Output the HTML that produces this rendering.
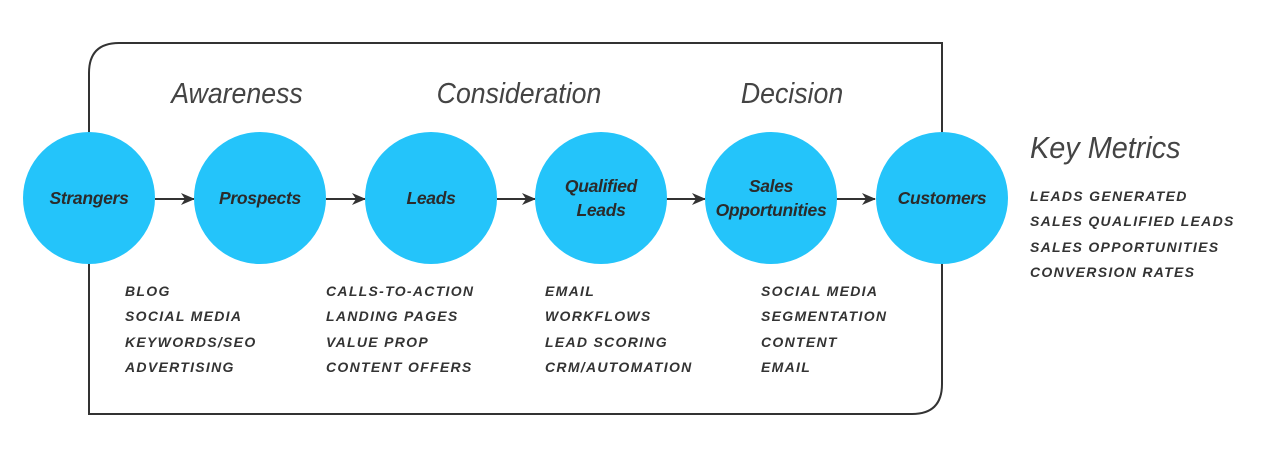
<!DOCTYPE html>
<html><head><meta charset="utf-8"><style>
body{margin:0;width:1280px;height:454px;background:#fff;position:relative;overflow:hidden;font-family:"Liberation Sans",sans-serif;}
.h{position:absolute;font-style:italic;font-weight:300;color:#444;font-size:29px;transform:translateX(-50%) scaleX(0.92);white-space:nowrap;line-height:1}
.c{position:absolute;width:132px;height:132px;border-radius:50%;background:#24C4FA;top:132px;display:flex;align-items:center;justify-content:center;text-align:center;font-weight:bold;font-style:italic;color:#2b2b2b;font-size:17.5px;line-height:24px;letter-spacing:-0.3px}
.l{position:absolute;font-weight:bold;font-style:italic;color:#333;font-size:14px;letter-spacing:1.3px;line-height:25.3px;white-space:nowrap}
</style></head><body>
<svg width="1280" height="454" style="position:absolute;left:0;top:0">
<defs><marker id="a" markerWidth="14" markerHeight="12" refX="13" refY="6" orient="auto" markerUnits="userSpaceOnUse"><path d="M0,0 L14,6 L0,12 L4,6 Z" fill="#333"/></marker></defs>
<path d="M89,414 L89,73 Q89,43 119,43 L942,43 L942,384 Q942,414 912,414 Z" fill="none" stroke="#333" stroke-width="2"/>
<g stroke="#333" stroke-width="2" marker-end="url(#a)">
<line x1="155" y1="199" x2="194" y2="199"/>
<line x1="326" y1="199" x2="365" y2="199"/>
<line x1="497" y1="199" x2="535" y2="199"/>
<line x1="666" y1="199" x2="705" y2="199"/>
<line x1="836" y1="199" x2="875" y2="199"/>
</g>
</svg>
<div class="h" style="left:237px;top:80px">Awareness</div>
<div class="h" style="left:519px;top:80px">Consideration</div>
<div class="h" style="left:792px;top:80px">Decision</div>
<div class="h" style="left:1030px;top:132px;font-size:31px;transform:scaleX(0.93);transform-origin:left">Key Metrics</div>
<div class="c" style="left:23px">Strangers</div>
<div class="c" style="left:194px">Prospects</div>
<div class="c" style="left:365px">Leads</div>
<div class="c" style="left:535px">Qualified<br>Leads</div>
<div class="c" style="left:705px">Sales<br>Opportunities</div>
<div class="c" style="left:876px">Customers</div>
<div class="l" style="left:125px;top:279px">BLOG<br>SOCIAL MEDIA<br>KEYWORDS/SEO<br>ADVERTISING</div>
<div class="l" style="left:326px;top:279px">CALLS-TO-ACTION<br>LANDING PAGES<br>VALUE PROP<br>CONTENT OFFERS</div>
<div class="l" style="left:545px;top:279px">EMAIL<br>WORKFLOWS<br>LEAD SCORING<br>CRM/AUTOMATION</div>
<div class="l" style="left:761px;top:279px">SOCIAL MEDIA<br>SEGMENTATION<br>CONTENT<br>EMAIL</div>
<div class="l" style="left:1030px;top:184px">LEADS GENERATED<br>SALES QUALIFIED LEADS<br>SALES OPPORTUNITIES<br>CONVERSION RATES</div>
</body></html>
